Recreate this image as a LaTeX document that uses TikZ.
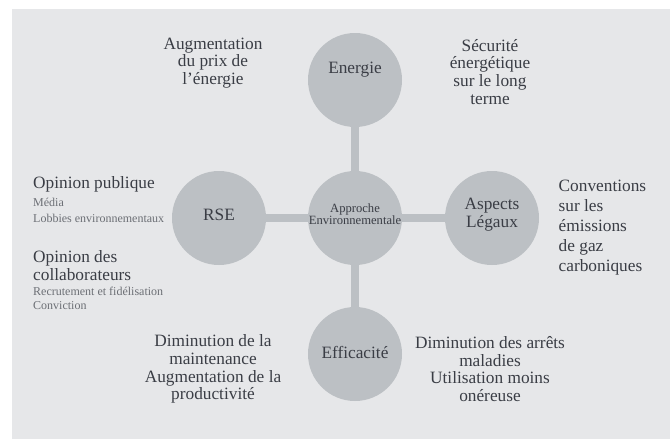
\documentclass[tikz,border=0pt]{standalone}
\usepackage{fontspec}
\setmainfont{Liberation Serif}
\definecolor{bggray}{HTML}{E6E7E9}
\definecolor{discgray}{HTML}{BCC0C4}
\definecolor{inkgray}{HTML}{3A3D45}
\definecolor{softgray}{HTML}{6C6F75}
\begin{document}
\begin{tikzpicture}[x=1pt,y=-1pt,
  disc/.style={circle,fill=discgray,minimum size=94pt,inner sep=0pt},
  bar/.style={draw=discgray,line width=8.5pt,shorten <=-1.5pt,shorten >=-1.5pt},
  big/.style={text=inkgray,inner sep=0pt,font=\fontsize{17.3}{17.6}\selectfont},
  bigc/.style={big,align=center},
  bigl/.style={big,align=left,anchor=west},
  small/.style={text=softgray,inner sep=0pt,anchor=west,font=\fontsize{12}{15}\selectfont},
  centre/.style={text=inkgray,inner sep=0pt,align=center,font=\fontsize{12.6}{12.4}\selectfont}]
\useasboundingbox (0,0) rectangle (670,439);
\fill[bggray] (12,9) rectangle (670,439);
% circles
\node[disc] (energie) at (355,80) {};
\node[disc] (approche) at (355,218) {};
\node[disc] (rse) at (219,218) {};
\node[disc] (legaux) at (492,218) {};
\node[disc] (efficacite) at (355,354) {};
% connectors
\draw[bar] (energie) -- (approche);
\draw[bar] (approche) -- (efficacite);
\draw[bar] (rse) -- (approche);
\draw[bar] (approche) -- (legaux);
% circle labels
\node[big] (tEnergie) at ([yshift=10pt]energie.center) {Energie};
\node[centre] (tApproche) at ([yshift=4pt]approche.center) {Approche\\Environnementale};
\node[big] (tRse) at ([yshift=3pt]rse.center) {RSE};
\node[bigc,font=\fontsize{17.3}{18.3}\selectfont] (tLegaux) at ([yshift=3pt]legaux.center) {Aspects\\Légaux};
\node[big] (tEff) at ([yshift=2pt]efficacite.center) {Efficacité};
% surrounding texts
\node[bigc] (aug) at (213,63) {Augmentation\\du prix de\\l’énergie};
\node[bigc] (secu) at (490,71.7) {Sécurité\\énergétique\\sur le long\\terme};
\node[bigl,font=\fontsize{17.3}{20}\selectfont] (conv) at (558.5,227.9) {Conventions\\sur les\\émissions\\de gaz\\carboniques};
\node[bigc] (dimL) at (213,369.1) {Diminution de la\\maintenance\\Augmentation de la\\productivité};
\node[bigc] (dimR) at (490,369.1) {Diminution des arrêts\\maladies\\Utilisation moins\\onéreuse};
\node[bigl] (opPub) at (33,184.3) {Opinion publique};
\node[small] (media) at (33,202.3) {Média};
\node[small] (lobbies) at (33,218.3) {Lobbies environnementaux};
\node[bigl,font=\fontsize{17.3}{18.3}\selectfont] (opCol) at (33,265.8) {Opinion des\\collaborateurs};
\node[small] (recrut) at (33,291) {Recrutement et fidélisation};
\node[small] (convic) at (33,306) {Conviction};
\end{tikzpicture}
\end{document}
